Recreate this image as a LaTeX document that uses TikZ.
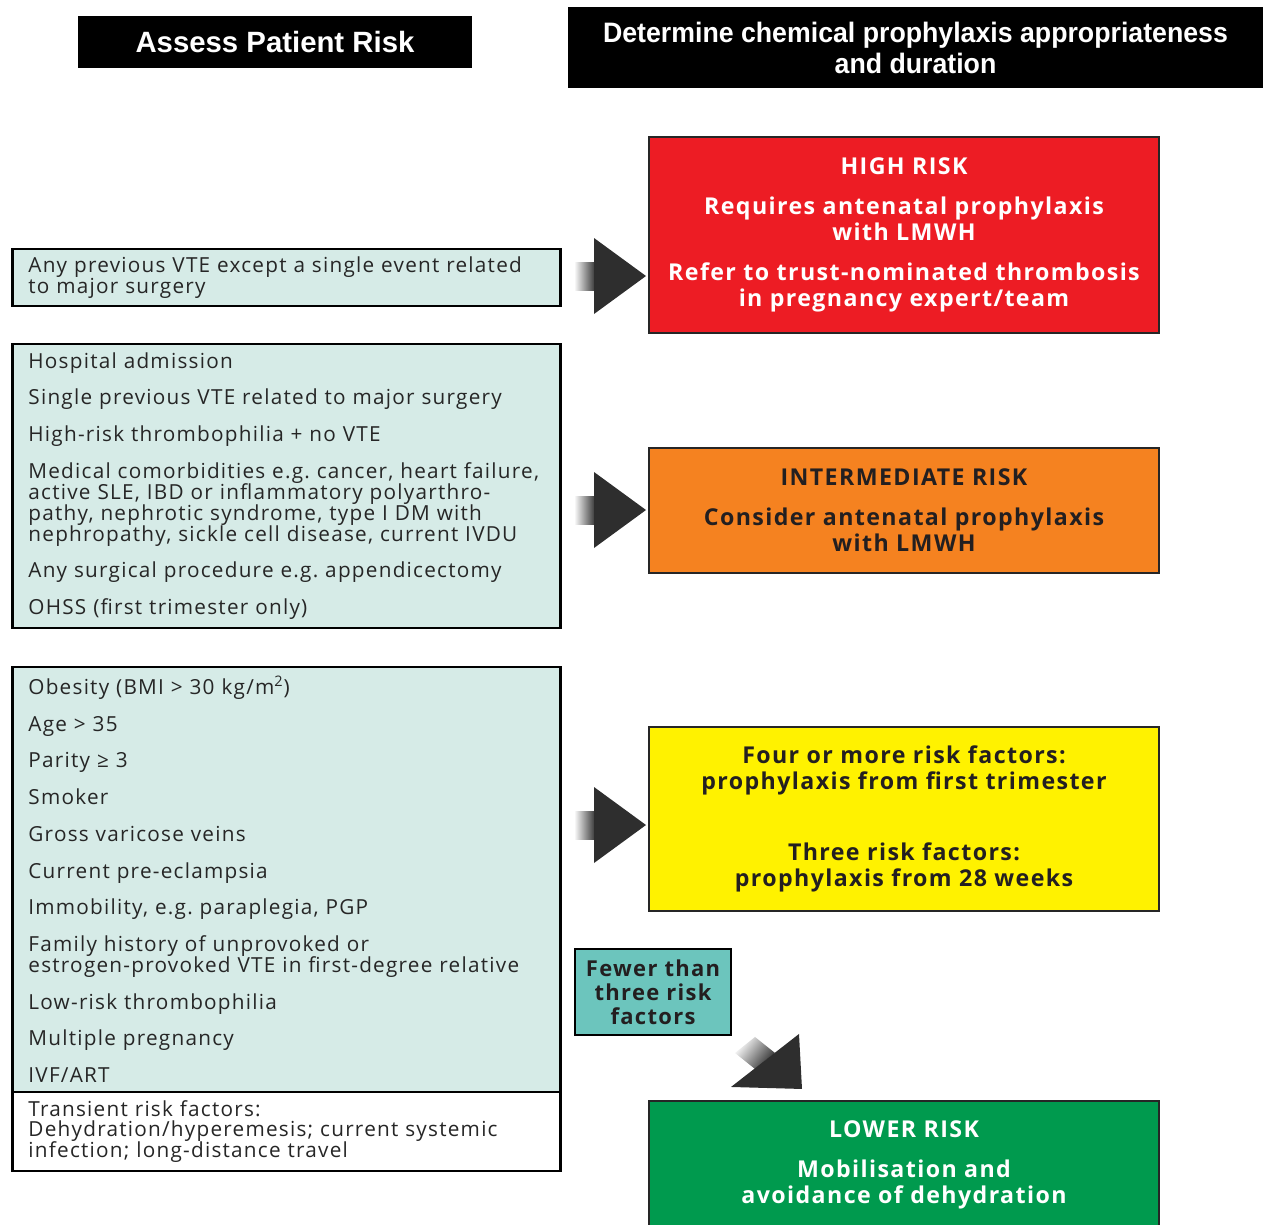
\documentclass[tikz,border=0pt]{standalone}
\usepackage{fontspec}
\setmainfont{Open Sans}[LetterSpace=6]
\newfontfamily\headfont{Liberation Sans}
\newfontfamily\headnarrow{Liberation Sans}[FakeStretch=0.95]
\usetikzlibrary{calc}
\frenchspacing

\definecolor{riskred}{HTML}{ED1C24}
\definecolor{riskorange}{HTML}{F58220}
\definecolor{riskyellow}{HTML}{FFF200}
\definecolor{riskgreen}{HTML}{009A4E}
\definecolor{factorfill}{HTML}{D6EBE7}
\definecolor{fewerfill}{HTML}{6CC5BD}
\definecolor{arrowdark}{HTML}{2E2E2E}
\definecolor{inkdark}{HTML}{231F20}

\begin{document}
\begin{tikzpicture}[x=0.02cm, y=-0.02cm,
  every node/.style={inner sep=0pt},
  header/.style={fill=black, text=white, align=center, font=\headfont\bfseries\fontsize{16.7}{17.6}\selectfont},
  factors/.style={draw=black, line width=1.6pt, fill=factorfill, text=black!85, anchor=west, align=left,
    text width=10.32cm, inner xsep=0.32cm, font=\fontsize{11.8}{11.9}\selectfont},
  riskbox/.style={draw=black!85, line width=1.2pt, minimum width=10.2cm, align=center,
    font=\bfseries\fontsize{13.2}{15}\selectfont},
  blockarrow/.pic={
    \shade[left color=white, right color=arrowdark] (-72,-14) rectangle (-50,14);
    \fill[arrowdark] (-52,-38) -- (0,0) -- (-52,38) -- cycle;
  }]
\useasboundingbox (0,0) rectangle (1263,1224);

% Column headers
\node[header, minimum width=7.88cm, minimum height=1.04cm] (assess) at (275,42) {Assess Patient Risk};
\node[header, font=\headnarrow\bfseries\fontsize{16}{17.6}\selectfont, minimum width=13.9cm, minimum height=1.62cm] (determine) at (915.5,47.5)
  {Determine chemical prophylaxis appropriateness\\and duration};

% Risk factors (left)
\node[factors, minimum height=1.14cm] (prev) at (11,277.5)
  {Any previous VTE except a single event related\\to major surgery};
\node[factors, minimum height=5.68cm] (inter) at (11,486)
  {Hospital admission\\[9pt]
   Single previous VTE related to major surgery\\[9pt]
   High-risk thrombophilia + no VTE\\[9pt]
   Medical comorbidities e.g. cancer, heart failure,\\active SLE, IBD or inflammatory polyarthro-\\pathy, nephrotic syndrome, type I DM with\\nephropathy, sickle cell disease, current IVDU\\[9pt]
   Any surgical procedure e.g. appendicectomy\\[9pt]
   OHSS (first trimester only)};
\node[factors, minimum height=8.5cm] (minor) at (11,879.5)
  {Obesity (BMI > 30 kg/m\textsuperscript{2})\\[9pt]
   Age > 35\\[9pt]
   Parity ≥ 3\\[9pt]
   Smoker\\[9pt]
   Gross varicose veins\\[9pt]
   Current pre-eclampsia\\[9pt]
   Immobility, e.g. paraplegia, PGP\\[9pt]
   Family history of unprovoked or\\estrogen-provoked VTE in first-degree relative\\[9pt]
   Low-risk thrombophilia\\[9pt]
   Multiple pregnancy\\[9pt]
   IVF/ART};
\node[factors, fill=white, minimum height=1.58cm] (transient) at (11,1131.5)
  {Transient risk factors:\\Dehydration/hyperemesis; current systemic\\infection; long-distance travel};

% Risk levels (right)
\node[riskbox, fill=riskred, text=white, minimum height=3.92cm] (high) at (904,235)
  {HIGH RISK\\[7.7pt]Requires antenatal prophylaxis\\with LMWH\\[7.7pt]Refer to trust-nominated thrombosis\\in pregnancy expert/team};
\node[riskbox, fill=riskorange, text=inkdark, minimum height=2.5cm] (mid) at (904,510.5)
  {INTERMEDIATE RISK\\[7.7pt]Consider antenatal prophylaxis\\with LMWH};
\node[riskbox, fill=riskyellow, text=inkdark, minimum height=3.68cm] (four) at (904,819)
  {Four or more risk factors:\\prophylaxis from first trimester\\[25.3pt]Three risk factors:\\prophylaxis from 28 weeks};
\node[riskbox, fill=riskgreen, text=white, minimum height=2.56cm] (lower) at (904,1165)
  {LOWER RISK\\[7.7pt]Mobilisation and\\avoidance of dehydration};
\node[draw=black, line width=1.6pt, fill=fewerfill, text=inkdark, align=center, minimum width=3.12cm, minimum height=1.72cm,
  font=\bfseries\fontsize{12.5}{13.6}\selectfont] (fewer) at (653,992) {Fewer than\\three risk\\factors};

% Arrows
\coordinate (row1) at (0,276);
\coordinate (row2) at (0,510);
\coordinate (row3) at (0,825);
\pic at ($(high.west |- row1)+(-2,0)$) {blockarrow};
\pic at ($(mid.west |- row2)+(-2,0)$) {blockarrow};
\pic at ($(four.west |- row3)+(-2,0)$) {blockarrow};
% diagonal arrow from the small box down to the lower risk box
\begin{scope}[shift={($(lower.north west)+(154,-11)$)}]
  \shade[left color=white, right color=arrowdark, shading angle=52.4]
    (-27,-36) -- (-47,-20) -- (-67,-36) -- (-47,-52) -- cycle;
  \fill[arrowdark] (-3,-55) -- (0,0) -- (-71,-2) -- cycle;
\end{scope}
\end{tikzpicture}
\end{document}
